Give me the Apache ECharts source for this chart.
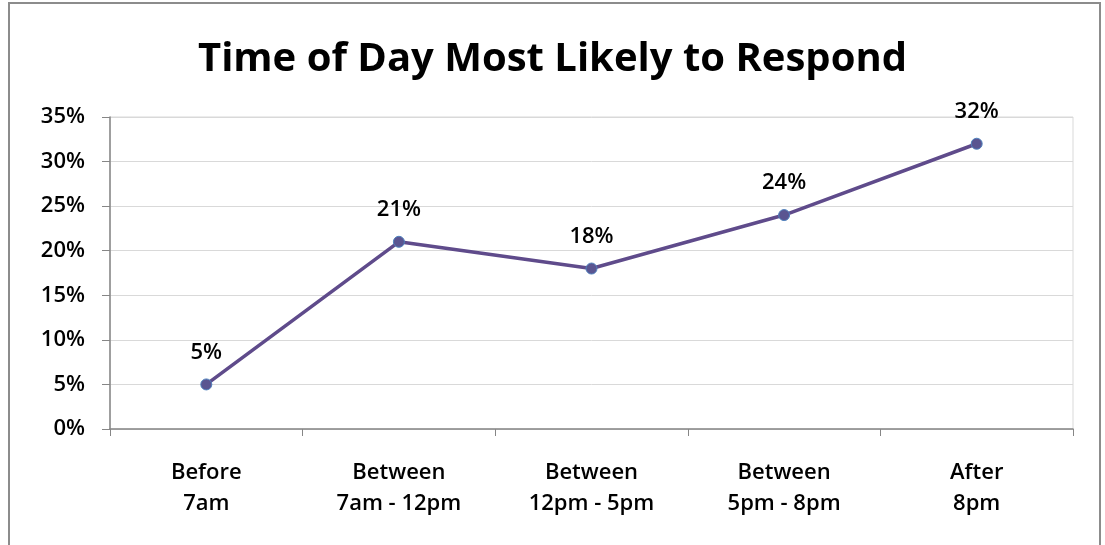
<!DOCTYPE html>
<html><head><meta charset="utf-8">
<script src="https://cdn.jsdelivr.net/npm/echarts@6/dist/echarts.min.js"></script>
<style>html,body{margin:0;padding:0;background:#fff}#c{width:1105px;height:545px}</style>
</head><body><div id="c"></div>
<script>
const categories = ['Before\n7am', 'Between\n7am - 12pm', 'Between\n12pm - 5pm', 'Between\n5pm - 8pm', 'After\n8pm'];
const values = [5, 21, 18, 24, 32];
const yTicks = [0, 5, 10, 15, 20, 25, 30, 35];
const titleText = 'Time of Day Most Likely to Respond';
const FONT = '"Open Sans", "Noto Sans", sans-serif';
const chart = echarts.init(document.getElementById('c'));
chart.setOption({
  animation: false,
  backgroundColor: '#fff',
  graphic: [{type: 'rect', shape: {x: 9, y: 3, width: 1091, height: 560}, style: {fill: 'none', stroke: '#8c8c8c', lineWidth: 2}, silent: true}],
  title: {text: titleText, left: 'center', top: 35, textStyle: {fontFamily: FONT, fontSize: 40, fontWeight: 'bold', color: '#000'}},
  grid: {left: 110, right: 32, top: 117, bottom: 116, show: true, borderColor: '#d9d9d9', borderWidth: 1},
  xAxis: {type: 'category', data: categories, boundaryGap: true,
    axisLine: {lineStyle: {color: '#868686', width: 1.5}},
    axisTick: {show: true, length: 7, lineStyle: {color: '#868686'}},
    axisLabel: {fontFamily: FONT, fontSize: 22, fontWeight: 600, color: '#000', margin: 28, lineHeight: 31, interval: 0}},
  yAxis: {type: 'value', min: yTicks[0], max: yTicks[yTicks.length-1], interval: 5,
    axisLine: {show: true, lineStyle: {color: '#868686', width: 1.5}},
    axisTick: {show: true, length: 8, lineStyle: {color: '#868686'}},
    splitLine: {lineStyle: {color: '#d9d9d9'}},
    axisLabel: {fontFamily: FONT, fontSize: 22, fontWeight: 600, color: '#000', margin: 25, formatter: v => v + '%'}},
  series: [{type: 'line', data: values, symbol: 'circle', symbolSize: 11,
    lineStyle: {color: '#5f4b8b', width: 3.5},
    itemStyle: {color: '#5a5591', borderColor: '#4f81bd', borderWidth: 1},
    label: {show: true, position: 'top', distance: 15, formatter: p => p.value + '%', fontFamily: FONT, fontSize: 22, fontWeight: 600, color: '#000'}}]
});
</script></body></html>
